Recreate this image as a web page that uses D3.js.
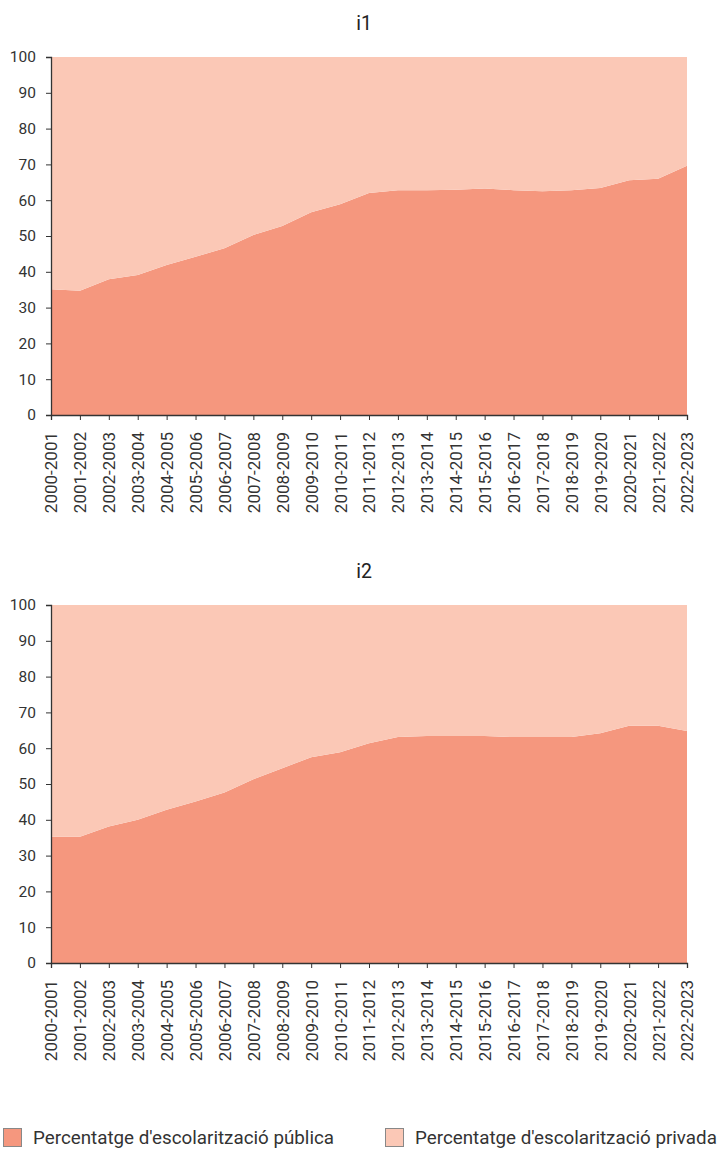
<!DOCTYPE html>
<html><head><meta charset="utf-8">
<script src="https://cdn.jsdelivr.net/npm/d3@7"></script>
<style>body{margin:0;background:#fff;font-family:Roboto,"Noto Sans",sans-serif;}</style>
</head><body><svg id="c" width="719" height="1149"></svg>
<script>
const categories = ["2000-2001","2001-2002","2002-2003","2003-2004","2004-2005","2005-2006","2006-2007","2007-2008","2008-2009","2009-2010","2010-2011","2011-2012","2012-2013","2013-2014","2014-2015","2015-2016","2016-2017","2017-2018","2018-2019","2019-2020","2020-2021","2021-2022","2022-2023"];
const publicI1 = [35.1,34.7,37.9,39.1,41.9,44.2,46.6,50.3,52.8,56.6,58.9,62.0,62.8,62.8,62.9,63.3,62.8,62.5,62.8,63.4,65.6,66.0,69.6];
const publicI2 = [35.3,35.3,38.1,40.0,42.8,45.1,47.6,51.3,54.4,57.5,58.9,61.4,63.1,63.4,63.4,63.4,63.1,63.1,63.1,64.2,66.3,66.3,64.8];
const yTicks = [0,10,20,30,40,50,60,70,80,90,100];
const titles = ["i1","i2"];
const seriesNames = ["Percentatge d'escolarització pública","Percentatge d'escolarització privada"];
const colors = ["#F5977E","#FBC8B6"];

const svg = d3.select("#c");
const x = d3.scalePoint().domain(categories).range([51,687]);

function drawPanel(title, pub, top) {
  const bottom = top + 358;
  const y = d3.scaleLinear().domain([0,100]).range([bottom, top]);
  const g = svg.append("g");
  const data = categories.map((c,i)=>({c, pub: pub[i], priv: 100 - pub[i]}));
  const stack = d3.stack().keys(["pub","priv"])(data);
  const area = d3.area().x(d=>x(d.data.c)).y0(d=>y(d[0])).y1(d=>y(d[1]));
  g.selectAll("path.a").data(stack).join("path").attr("class","a")
    .attr("d", area).attr("fill",(d,i)=>colors[i]);
  g.append("text").attr("x",364).attr("y",top-27).attr("text-anchor","middle")
    .attr("font-size",19.5).attr("fill","#222").text(title);
  const ya = g.append("g").attr("transform",`translate(51,0)`)
    .call(d3.axisLeft(y).tickValues(yTicks).tickSize(5).tickPadding(6));
  ya.select(".domain").attr("stroke","#333").attr("stroke-width",1.3);
  ya.selectAll(".tick line").attr("stroke","#333");
  ya.selectAll("text").attr("font-size",15.5).attr("fill","#333").attr("font-family","Roboto").attr("x",-15);
  const xa = g.append("g").attr("transform",`translate(0,${bottom})`)
    .call(d3.axisBottom(x).tickSize(5).tickPadding(6));
  xa.select(".domain").attr("stroke","#333").attr("stroke-width",1.3);
  xa.selectAll(".tick line").attr("stroke","#333");
  xa.selectAll("text").attr("font-size",17).attr("fill","#333").attr("font-family","Roboto")
    .attr("transform","rotate(-90)").attr("text-anchor","end")
    .attr("x",-17).attr("y",0).attr("dy","0.35em");
}
drawPanel(titles[0], publicI1, 57);
drawPanel(titles[1], publicI2, 605);

const legX = [3,385];
seriesNames.forEach((n,i)=>{
  svg.append("rect").attr("x",legX[i]+0.5).attr("y",1128.5).attr("width",18).attr("height",18)
    .attr("fill",colors[i]).attr("stroke","#888").attr("stroke-width",1);
  svg.append("text").attr("x",legX[i]+30).attr("y",1144).attr("font-size",18.8)
    .attr("fill","#333").text(n);
});
</script></body></html>
